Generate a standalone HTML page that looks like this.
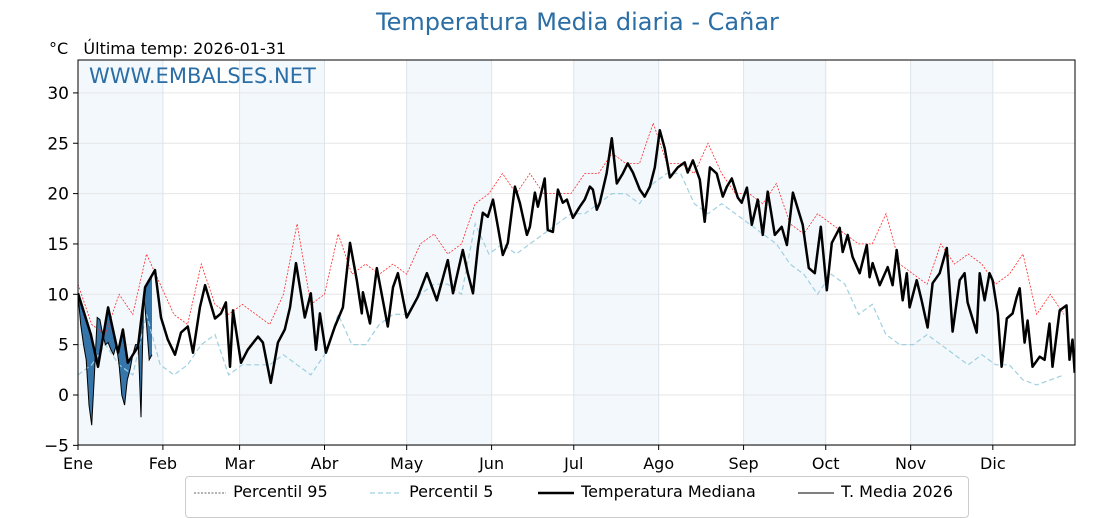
<!DOCTYPE html>
<html><head><meta charset="utf-8"><style>
body{margin:0;background:#fff;width:1120px;height:500px;overflow:hidden;font-family:"Liberation Sans","DejaVu Sans",sans-serif}
svg text{font-family:"DejaVu Sans","Liberation Sans",sans-serif}
</style></head><body>
<svg id="chart" width="1120" height="500" xmlns="http://www.w3.org/2000/svg"></svg>
<script>
const monthLabels=["Ene","Feb","Mar","Abr","May","Jun","Jul","Ago","Sep","Oct","Nov","Dic"];
const monthStarts=[0,31,59,90,120,151,181,212,243,273,304,334];
const yTicks=[-5,0,5,10,15,20,25,30];
const medDays=[0,4.7,7.3,11,14.6,16.4,18.2,21.9,24.5,28.1,30.3,32.8,35.4,37.6,40.1,42,44.5,46.4,50,52.2,54,55.5,56.6,59.5,62,65.7,67.5,70.4,73,75.5,77.4,79.6,82.8,85,86.9,88.3,90.5,93.8,96.7,99.3,101.8,103.6,104,106.6,109.1,113.1,115,116.8,120,124,127.4,131,135,136.9,140.5,142.3,144.2,146,147.8,149.6,151.5,153.3,155.1,156.9,159.5,161.3,163.9,165,166.8,167.9,170.4,171.5,173.4,175.2,177,178.5,180.7,183.2,185,186.9,188,189.4,190.5,193,194.9,196.7,198.9,200.7,202.6,205.1,206.9,208.8,210.6,212.4,214.2,216.1,219,221.5,222.6,224.5,227,228.8,230.7,233.2,235.4,236.9,238.7,240.9,242.3,244.2,246,248.2,250,251.8,254.4,256.9,258.8,261,264.6,266.8,269,271.2,273.4,275.2,278.1,279.2,281,282.8,285.4,288,289,290.1,292.7,295.6,297.4,298.9,301.1,302.6,303.6,306.2,308,310.2,312,314.6,317.2,319.3,321.9,323.7,324.8,328.1,329.2,331,332.8,333.9,335.8,337.2,339.1,341.2,342.7,343.8,345.6,346.7,348.5,351.1,352.9,354.7,355.8,358.4,360.9,362,363.1,363.9];
const medVals=[10.1,6,2.8,8.7,4.2,6.5,3.2,4.8,10.7,12.4,7.7,5.5,4,6.2,6.8,4.2,8.7,10.9,7.6,8.1,9.2,2.8,8.4,3.2,4.5,5.8,5.2,1.2,5.2,6.5,8.7,13.1,7.7,10.1,4.5,8.1,4.2,6.8,8.7,15.1,11.4,8.1,10.2,7.1,12.6,6.8,10.7,12.1,7.7,9.7,12.1,9.4,13.4,10.1,14.4,12.1,10.1,14.7,18.1,17.7,19.4,16.7,13.9,15.1,20.7,19.1,15.9,16.7,20.1,18.7,21.5,16.4,16.2,20.4,19.1,19.4,17.6,18.7,19.4,20.7,20.4,18.4,19.1,22,25.5,21,22,23,22.1,20.4,19.7,20.7,22.6,26.3,24.5,21.6,22.6,23.1,22.1,23.3,21.4,17.2,22.6,22,19.7,20.7,21.5,19.6,19.1,20.6,16.9,19.4,15.9,20.2,15.9,16.7,14.9,20.1,16.9,12.6,12.1,16.7,10.4,15.1,16.6,14.2,15.9,13.7,12.1,14.9,11.7,13.1,10.9,12.7,10.9,14.4,9.4,12.1,8.7,11.4,9.4,6.7,11.1,12.1,14.6,6.3,11.4,12.1,9.2,6.2,12.1,9.4,12.1,11.4,8.1,2.8,7.6,8.1,9.7,10.6,5.2,7.4,2.8,3.8,3.5,7.1,2.8,8.4,8.9,3.5,5.5,2.2,2.8];
const pctDays=[0,5,10,15,20,25,30,35,40,45,50,55,60,65,70,75,80,85,90,95,100,105,110,115,120,125,130,135,140,145,150,155,160,165,170,175,180,185,190,195,200,205,210,215,220,225,230,235,240,245,250,255,260,265,270,275,280,285,290,295,300,305,310,315,320,325,330,335,340,345,350,355,360];
const p95Vals=[11,7,6,10,8,14,11,8,7,13,9,8,9,8,7,10,17,9,10,16,12,13,12,13,12,15,16,14,15,19,20,22,20,22,20,20,20,22,22,24,23,23,27,23,23,22,25,22,20,20,19,21,17,16,18,17,16,15,15,18,13,12,11,15,13,14,13,11,12,14,8,10,8];
const p5Vals=[2,3,5,3,2,8,3,2,3,5,6,2,3,3,3,4,3,2,4,8,5,5,7,8,8,10,11,11,10,17,14,15,14,15,16,17,18,18,19,20,20,19,21,22,22,19,18,19,18,17,16,15,13,12,10,12,11,8,9,6,5,5,6,5,4,3,4,3,3,1.5,1,1.5,2];
const y2026=[10,7,5,3.5,-1,-3,2,7.7,7.5,6,5,5.2,4.5,4,5,3,0,-1,1.5,2.5,4,5,5,-2.2,10,7,3.5,4];

const NS="http://www.w3.org/2000/svg";
const svg=document.getElementById('chart');
const L=78,R=1075,T=60,B=445;
const xS=d=>L+d*(R-L)/364;
const yS=v=>395-v*10.07;
function mk(tag,attrs,parent){const e=document.createElementNS(NS,tag);for(const k in attrs)e.setAttribute(k,attrs[k]);(parent||svg).appendChild(e);return e;}
for(let i=0;i<12;i+=2){const x0=xS(monthStarts[i]),x1=xS(i+1<12?monthStarts[i+1]:364);
const r=mk('rect',{x:x0,y:T,width:x1-x0,height:B-T,fill:'#f3f8fc'});

}
yTicks.forEach(v=>{const l=mk('line',{x1:L,x2:R,y1:yS(v),y2:yS(v),stroke:'#e6e6e6','stroke-width':1});

});
monthStarts.forEach(d=>{const l=mk('line',{x1:xS(d),x2:xS(d),y1:T,y2:B,stroke:'#dde4ea','stroke-width':1});

});
const clip=mk('clipPath',{id:'pc'});mk('rect',{x:L,y:T,width:R-L,height:B-T},clip);
const g=mk('g',{'clip-path':'url(#pc)'});
function pts(ds,vs){return ds.map((d,i)=>xS(d).toFixed(1)+','+yS(vs[i]).toFixed(1)).join(' ');}
function medAt(d){for(let i=1;i<medDays.length;i++){if(medDays[i]>=d){const t=(d-medDays[i-1])/(medDays[i]-medDays[i-1]);return medVals[i-1]+t*(medVals[i]-medVals[i-1]);}}return medVals[medVals.length-1];}
const d26=y2026.map((v,i)=>i);
let poly=pts(d26,y2026)+' '+d26.slice().reverse().map(d=>xS(d).toFixed(1)+','+yS(medAt(d)).toFixed(1)).join(' ');
const f=mk('polygon',{points:poly,fill:'#2b6ea5','fill-opacity':0.95},g);


const p95=mk('polyline',{points:pts(pctDays,p95Vals),fill:'none',stroke:'#ff2a2a','stroke-width':0.8,'stroke-dasharray':'2,1.5'},g);


const p5=mk('polyline',{points:pts(pctDays,p5Vals),fill:'none',stroke:'#9fd0e0','stroke-width':1.2,'stroke-dasharray':'5,3'},g);


const med=mk('polyline',{points:pts(medDays,medVals),fill:'none',stroke:'#000','stroke-width':2.5,'stroke-linejoin':'round'},g);


const l26=mk('polyline',{points:pts(d26,y2026),fill:'none',stroke:'#000','stroke-width':1},g);


const fr=mk('rect',{x:L,y:T,width:R-L,height:B-T,fill:'none',stroke:'#000','stroke-width':1});


yTicks.forEach(v=>{mk('line',{x1:L-5,x2:L,y1:yS(v),y2:yS(v),stroke:'#000'});
const t=mk('text',{x:L-9,y:yS(v)+6,'text-anchor':'end','font-size':17,fill:'#000'});t.textContent=v<0?'\u2212'+(-v):v;

});
monthStarts.forEach((d,i)=>{mk('line',{x1:xS(d),x2:xS(d),y1:B,y2:B+5,stroke:'#000'});
const t=mk('text',{x:xS(d),y:469,'text-anchor':'middle','font-size':16,fill:'#000'});t.textContent=monthLabels[i];

});
</script>
<div style="position:absolute;left:0;top:8px;width:1155px;text-align:center;font-family:'DejaVu Sans',sans-serif;font-size:24px;color:#2b6ea5">Temperatura Media diaria - Cañar</div>
<div style="position:absolute;left:49px;top:39px;font-family:'DejaVu Sans',sans-serif;font-size:16px;color:#000">°C&nbsp;&nbsp;&nbsp;Última temp: 2026-01-31</div>
<div style="position:absolute;left:89px;top:64px;font-family:'DejaVu Sans',sans-serif;font-size:21px;color:#2b6ea5">WWW.EMBALSES.NET</div>
<div style="position:absolute;left:185px;top:476px;width:782px;height:40px;border:1px solid #ccc;border-radius:4px;background:#fff;font-family:'DejaVu Sans',sans-serif;font-size:16px">
<span style="position:absolute;left:8px;top:5px"><svg width="34" height="10" style="vertical-align:middle"><line x1="0" y1="5" x2="32" y2="5" stroke="#666" stroke-dasharray="2,1.5"/></svg> Percentil 95</span>
<span style="position:absolute;left:184px;top:5px"><svg width="34" height="10" style="vertical-align:middle"><line x1="0" y1="5" x2="32" y2="5" stroke="#9fd0e0" stroke-width="1.2" stroke-dasharray="5,3"/></svg> Percentil 5</span>
<span style="position:absolute;left:352px;top:5px"><svg width="38" height="10" style="vertical-align:middle"><line x1="0" y1="5" x2="36" y2="5" stroke="#000" stroke-width="2.5"/></svg> Temperatura Mediana</span>
<span style="position:absolute;left:612px;top:5px"><svg width="38" height="10" style="vertical-align:middle"><line x1="0" y1="5" x2="36" y2="5" stroke="#000" stroke-width="1"/></svg> T. Media 2026</span>
</div>
</body></html>
